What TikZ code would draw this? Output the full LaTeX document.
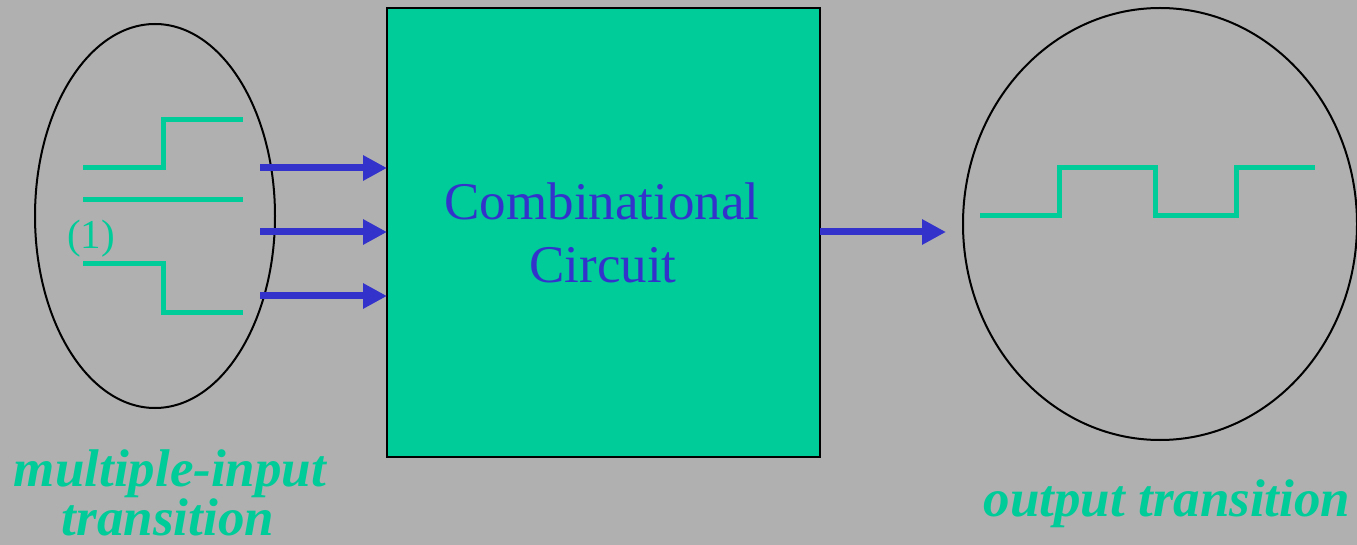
\documentclass[tikz,border=0pt]{standalone}
\usepackage{fontspec}
\setmainfont{Liberation Serif}
\usetikzlibrary{arrows.meta,shapes.geometric}
\definecolor{bggray}{HTML}{B0B0B0}
\definecolor{circgreen}{HTML}{00CC99}
\definecolor{sigblue}{HTML}{3333CC}
\begin{document}
\begin{tikzpicture}[x=1pt,y=-1pt,
  wave/.style={draw=circgreen,line width=5pt,line join=miter,line cap=butt},
  sigarrow/.style={draw=sigblue,line width=7pt,-{Triangle[length=24pt,width=24pt]}},
  ring/.style={ellipse,draw=black,line width=2pt,inner sep=0pt},
  caption/.style={text=circgreen,font=\fontsize{53}{48}\selectfont\bfseries\itshape,inner sep=0pt,anchor=base},
  boxtext/.style={text=sigblue,font=\fontsize{53}{63}\selectfont,inner sep=0pt,anchor=base}]
  % page and background
  \useasboundingbox (0,0) rectangle (1357,545);
  \fill[bggray] (0,0) rectangle (1357,545);

  % combinational block
  \node[draw=black,fill=circgreen,line width=2pt,minimum width=433pt,minimum height=449pt,
        inner sep=0pt,outer sep=0pt] (box) at (603.5,232.5) {};
  \node[boxtext] (l1) at (602,220) {Combinational};
  \node[boxtext] (l2) at (603,283) {Circuit};

  % input transitions
  \node[ring,minimum width=240pt,minimum height=384pt] (inring) at (155,216) {};
  \draw[wave] (83,168) -- (163,168) -- (163,120) -- (243,120);
  \draw[wave] (83,200) -- (243,200);
  \draw[wave] (83,264) -- (163,264) -- (163,312) -- (243,312);
  \node[text=circgreen,font=\fontsize{41}{41}\selectfont,inner sep=0pt,anchor=base] (one) at (91,249) {(1)};

  % input arrows into the block
  \coordinate (a1) at (260,168);
  \coordinate (a2) at (260,232);
  \coordinate (a3) at (260,296);
  \draw[sigarrow] (a1) -- (a1 -| box.west);
  \draw[sigarrow] (a2) -- (a2 -| box.west);
  \draw[sigarrow] (a3) -- (a3 -| box.west);

  % output transition
  \node[ring,minimum width=394pt,minimum height=432pt] (outring) at (1160,224) {};
  \coordinate (otip) at (946,232);
  \draw[sigarrow] (box.east |- otip) -- (otip);
  \draw[wave] (980,216) -- (1059,216) -- (1059,168) -- (1155,168) -- (1155,216)
              -- (1236,216) -- (1236,168) -- (1315,168);

  % captions
  \node[caption] (cap1) at (170,486) {multiple-input};
  \node[caption] (cap2) at (168,535) {transition};
  \node[caption] (cap3) at (1167,516) {output transition};
\end{tikzpicture}
\end{document}
